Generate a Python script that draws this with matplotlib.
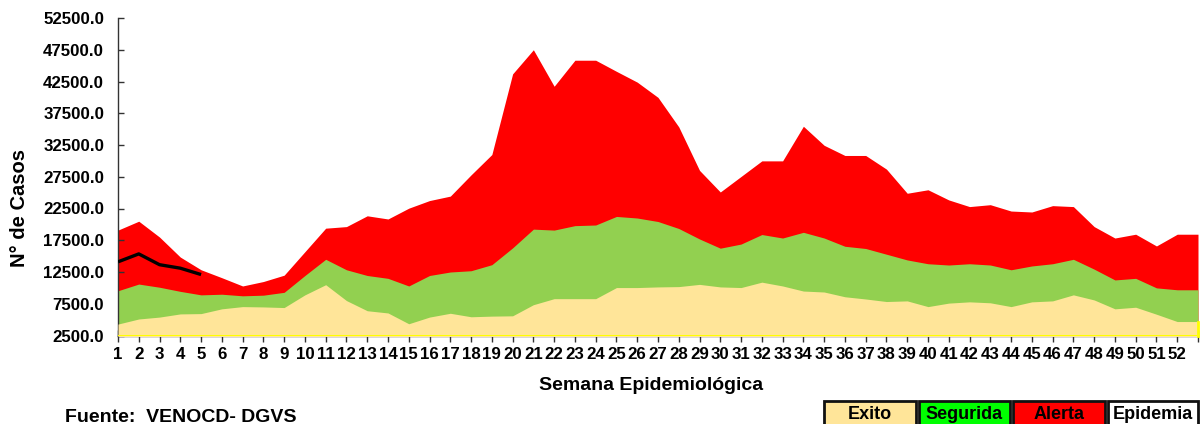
import matplotlib
matplotlib.use("Agg")
import matplotlib.pyplot as plt
import matplotlib.patches as mpatches
import numpy as np

plt.rcParams["font.family"] = ["Liberation Sans", "DejaVu Sans"]
plt.rcParams["font.weight"] = "bold"

# Canal endémico por semana epidemiológica (umbrales acumulados)
semanas = list(range(1, 53))
exito = [4300, 5100, 5400, 5900, 5950, 6700, 7050, 7000, 6900, 8900,
         10500, 8000, 6400, 6050, 4350, 5400, 6000, 5450, 5550, 5600,
         7350, 8300, 8300, 8300, 10050, 10050, 10150, 10200, 10550, 10150,
         10050, 10900, 10300, 9500, 9350, 8600, 8250, 7850, 7950, 7050,
         7600, 7800, 7650, 7050, 7800, 7950, 8900, 8100, 6700, 6950,
         5850, 4700]
seguridad = [9550, 10600, 10100, 9450, 8900, 9000, 8750, 8850, 9300, 11950,
             14500, 12850, 11950, 11500, 10300, 11950, 12500, 12700, 13650, 16300,
             19250, 19100, 19800, 19900, 21250, 21000, 20450, 19350, 17700, 16250,
             16900, 18400, 17850, 18750, 17850, 16550, 16200, 15300, 14400, 13800,
             13600, 13800, 13600, 12850, 13450, 13800, 14500, 12950, 11250, 11500,
             10000, 9700]
alerta = [19100, 20500, 18000, 14850, 12850, 11600, 10300, 11000, 12000, 15700,
          19400, 19650, 21350, 20850, 22550, 23750, 24450, 27800, 31000, 43700,
          47500, 41750, 45850, 45850, 44100, 42400, 40000, 35350, 28500, 25100,
          27550, 30000, 30000, 35450, 32450, 30850, 30850, 28700, 24900, 25450,
          23850, 22800, 23100, 22100, 21950, 22950, 22800, 19650, 17850, 18450,
          16600, 18450]
# casos del año en curso (semanas 1-5)
casos = [14100, 15350, 13650, 13100, 12100]

y_ticks = list(range(2500, 52501, 5000))

C_EXITO = "#FFE599"
C_SEG = "#92D050"
C_ALERTA = "#FF0000"

# el área se prolonga una categoría más con el último valor (como en el original)
x = np.arange(1, len(semanas) + 2)
ex = np.r_[exito, exito[-1]]
sg = np.r_[seguridad, seguridad[-1]]
al = np.r_[alerta, alerta[-1]]

fig = plt.figure(figsize=(12, 4.24), dpi=100, facecolor="white")
ax = fig.add_axes([118 / 1200, 1 - 335.5 / 424, 1080 / 1200, 317.5 / 424])

ax.fill_between(x, 0, al, color=C_ALERTA, lw=0, zorder=1)
ax.fill_between(x, 0, sg, color=C_SEG, lw=0, zorder=2)
ax.fill_between(x, 0, ex, color=C_EXITO, lw=0, zorder=3)
ax.plot(semanas[:len(casos)], casos, color="black", lw=2.4, zorder=5,
        solid_capstyle="butt")

# borde amarillo del área de éxito
ax.axhline(y_ticks[0], color="#FFFF00", lw=2.2, zorder=4)
ax.plot([x[-1], x[-1]], [y_ticks[0], ex[-1]], color="#FFFF00", lw=2.0,
        zorder=4, clip_on=False)

ax.set_xlim(1, x[-1])
ax.set_ylim(y_ticks[0], y_ticks[-1])
ax.set_yticks(y_ticks)
ax.set_yticklabels([f"{v:.1f}" for v in y_ticks])
ax.set_xticks(x)
ax.set_xticklabels([str(s) for s in semanas] + [""])

for side in ("top", "right"):
    ax.spines[side].set_visible(False)
ax.spines["left"].set_color("#333333")
ax.spines["bottom"].set_color("#333333")
ax.spines["left"].set_linewidth(1.0)
ax.spines["bottom"].set_linewidth(1.0)

ax.tick_params(axis="y", direction="in", length=4.5, width=1.0, color="#333333",
               labelsize=12.2, pad=10)
ax.tick_params(axis="x", direction="inout", length=8, width=1.0, color="#333333",
               labelsize=12.2, pad=4)
for lab in ax.get_xticklabels() + ax.get_yticklabels():
    lab.set_fontweight("bold")
ax.set_facecolor("white")

fig.text(651 / 1200, 1 - 386 / 424, "Semana Epidemiológica", ha="center",
         va="center", fontsize=14, fontweight="bold")
fig.text(20 / 1200, 1 - 208 / 424, "N° de Casos", ha="center", va="center",
         rotation=90, fontsize=14.5, fontweight="bold")
fig.text(65 / 1200, 1 - 422 / 424, "Fuente:  VENOCD- DGVS", ha="left",
         va="baseline", fontsize=14, fontweight="bold")

# leyenda en cajas
cajas = [("Exito", C_EXITO, 824, 916),
         ("Segurida", "#00FF00", 919, 1010),
         ("Alerta", C_ALERTA, 1013, 1105),
         ("Epidemia", "white", 1108, 1198)]
for texto, color, x0, x1 in cajas:
    rect = mpatches.Rectangle((x0 / 1200, -10 / 424), (x1 - x0) / 1200, 33.5 / 424,
                              transform=fig.transFigure, facecolor=color,
                              edgecolor="#111111", lw=2.0, clip_on=False)
    fig.patches.append(rect)
    fig.text((x0 + x1) / 2 / 1200, 1 - 419 / 424, texto, ha="center",
             va="baseline", fontsize=13, fontweight="bold", color="black")

fig.savefig("out.png", dpi=100, facecolor="white")
